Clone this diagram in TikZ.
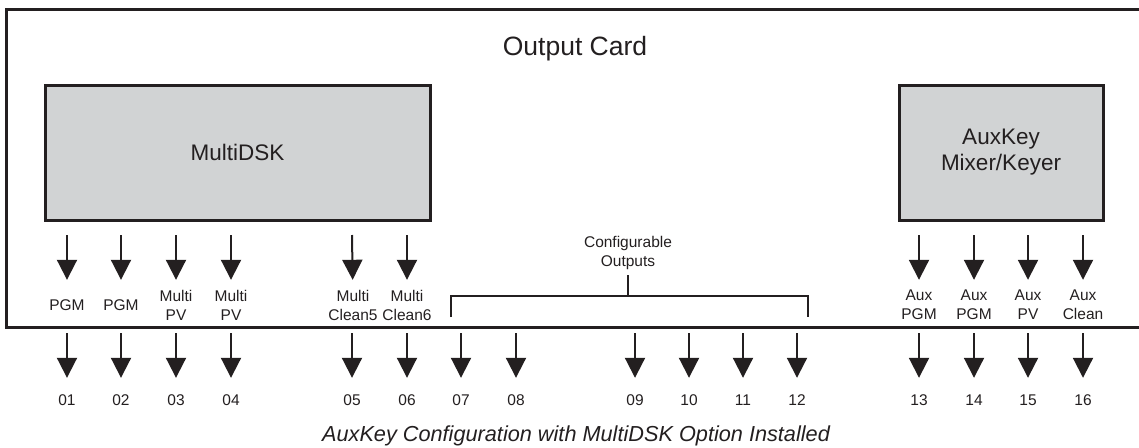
\documentclass[tikz,border=0pt]{standalone}
\usepackage{fontspec}
\setmainfont{Liberation Sans}
\usepackage{tikz}
\usetikzlibrary{arrows.meta}
\definecolor{ink}{HTML}{231F20}
\definecolor{boxgray}{HTML}{D1D3D4}

\begin{document}
\begin{tikzpicture}[x=1pt, y=-1pt,
	unitbox/.style={draw=ink, line width=3pt, fill=boxgray, inner sep=0pt, align=center, text=ink, font=\fontsize{22.5}{26}\selectfont},
	outarrow/.style={draw=ink, line width=2pt, -{Triangle[length=20pt,width=20pt]}},
	lbl/.style={text=ink, align=center, inner sep=0pt, minimum height=32pt, font=\fontsize{15.5}{19}\selectfont},
	num/.style={text=ink, inner sep=0pt, minimum height=14pt, font=\fontsize{15.5}{19}\selectfont}]
				
				\useasboundingbox (0,0) rectangle (1139,447);
				
				% card outline
				\draw[ink, line width=3pt] (6,9) rectangle (1146,327);
				\node[anchor=base, text=ink, font=\fontsize{26.5}{30}\selectfont] (card) at (575,55) {Output Card};
				
				\node[unitbox, minimum width=385pt, minimum height=135pt] (mdsk) at (237.5,152.5) {MultiDSK};
				\node[unitbox, minimum width=204pt, minimum height=135pt] (auxkey) at (1001,152.5) {AuxKey\\Mixer/Keyer};
				
				% outputs of the mixers
				\coordinate (t1) at (67,235);
				\coordinate (t2) at (121,235);
				\coordinate (t3) at (176,235);
				\coordinate (t4) at (231,235);
				\coordinate (t5) at (352,235);
				\coordinate (t6) at (407,235);
				\coordinate (t13) at (919,235);
				\coordinate (t14) at (974,235);
				\coordinate (t15) at (1028,235);
				\coordinate (t16) at (1083,235);
				
				\node[lbl] (l1) at (67,305) {PGM};
				\node[lbl] (l2) at (121,305) {PGM};
				\node[lbl] (l3) at (176,305) {Multi\\PV};
				\node[lbl] (l4) at (231,305) {Multi\\PV};
				\node[lbl] (l5) at (353,305) {Multi\\Clean5};
				\node[lbl] (l6) at (407,305) {Multi\\Clean6};
				\node[lbl] (l13) at (919,305) {Aux\\PGM};
				\node[lbl] (l14) at (974,305) {Aux\\PGM};
				\node[lbl] (l15) at (1028,305) {Aux\\PV};
				\node[lbl] (l16) at (1083,305) {Aux\\Clean};
				
				\draw[outarrow, shorten >=9pt] (t1) -- (l1);
				\draw[outarrow, shorten >=9pt] (t2) -- (l2);
				\draw[outarrow, shorten >=9pt] (t3) -- (l3);
				\draw[outarrow, shorten >=9pt] (t4) -- (l4);
				\draw[outarrow, shorten >=9pt] (t5) -- (l5);
				\draw[outarrow, shorten >=9pt] (t6) -- (l6);
				\draw[outarrow, shorten >=9pt] (t13) -- (l13);
				\draw[outarrow, shorten >=9pt] (t14) -- (l14);
				\draw[outarrow, shorten >=9pt] (t15) -- (l15);
				\draw[outarrow, shorten >=9pt] (t16) -- (l16);
				
				% configurable outputs
				\coordinate (bl) at (451,317);
				\coordinate (bm) at (628,296);
				\coordinate (br) at (808,317);
				\draw[ink, line width=2.5pt] (bl) |- (bm) -| (br);
				\node[lbl, anchor=south, minimum height=0pt] (cfg) at (628,270) {Configurable\\Outputs};
				\draw[ink, line width=2.5pt, shorten >=5pt] (bm) -- (cfg);
				
				% card outputs
				\coordinate (p1) at (67,333);
				\coordinate (p2) at (121,333);
				\coordinate (p3) at (176,333);
				\coordinate (p4) at (231,333);
				\coordinate (p5) at (352,333);
				\coordinate (p6) at (407,333);
				\coordinate (p7) at (461,333);
				\coordinate (p8) at (516,333);
				\coordinate (p9) at (635,333);
				\coordinate (p10) at (689,333);
				\coordinate (p11) at (743,333);
				\coordinate (p12) at (797,333);
				\coordinate (p13) at (919,333);
				\coordinate (p14) at (974,333);
				\coordinate (p15) at (1028,333);
				\coordinate (p16) at (1083,333);
				
				\node[num] (n1) at (67,400) {01};
				\node[num] (n2) at (121,400) {02};
				\node[num] (n3) at (176,400) {03};
				\node[num] (n4) at (231,400) {04};
				\node[num] (n5) at (352,400) {05};
				\node[num] (n6) at (407,400) {06};
				\node[num] (n7) at (461,400) {07};
				\node[num] (n8) at (516,400) {08};
				\node[num] (n9) at (635,400) {09};
				\node[num] (n10) at (689,400) {10};
				\node[num] (n11) at (743,400) {11};
				\node[num] (n12) at (797,400) {12};
				\node[num] (n13) at (919,400) {13};
				\node[num] (n14) at (974,400) {14};
				\node[num] (n15) at (1028,400) {15};
				\node[num] (n16) at (1083,400) {16};
				
				\draw[outarrow, shorten >=15pt] (p1) -- (n1);
				\draw[outarrow, shorten >=15pt] (p2) -- (n2);
				\draw[outarrow, shorten >=15pt] (p3) -- (n3);
				\draw[outarrow, shorten >=15pt] (p4) -- (n4);
				\draw[outarrow, shorten >=15pt] (p5) -- (n5);
				\draw[outarrow, shorten >=15pt] (p6) -- (n6);
				\draw[outarrow, shorten >=15pt] (p7) -- (n7);
				\draw[outarrow, shorten >=15pt] (p8) -- (n8);
				\draw[outarrow, shorten >=15pt] (p9) -- (n9);
				\draw[outarrow, shorten >=15pt] (p10) -- (n10);
				\draw[outarrow, shorten >=15pt] (p11) -- (n11);
				\draw[outarrow, shorten >=15pt] (p12) -- (n12);
				\draw[outarrow, shorten >=15pt] (p13) -- (n13);
				\draw[outarrow, shorten >=15pt] (p14) -- (n14);
				\draw[outarrow, shorten >=15pt] (p15) -- (n15);
				\draw[outarrow, shorten >=15pt] (p16) -- (n16);
				
				\node[anchor=base, text=ink, font=\fontsize{21.7}{26}\selectfont\itshape] (caption) at (576,441) {AuxKey Configuration with MultiDSK Option Installed};
				
			\end{tikzpicture}
\end{document}
